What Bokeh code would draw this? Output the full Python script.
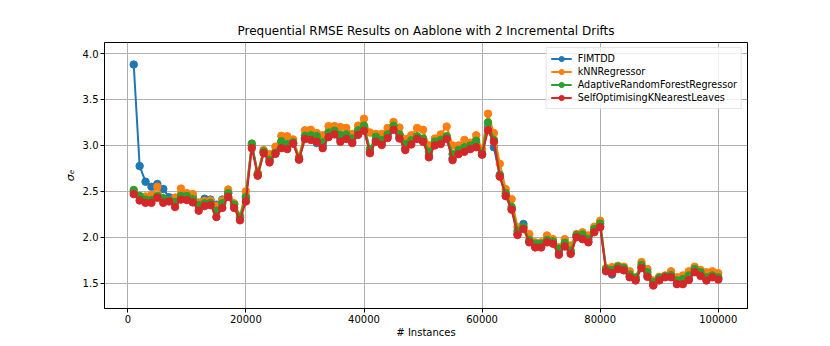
from bokeh.plotting import figure
from bokeh.models import Range1d, FixedTicker, Legend, LegendItem, NumeralTickFormatter, ColumnDataSource
from bokeh.embed import file_html
from bokeh.resources import INLINE

instances = [1000 * k for k in range(1, 101)]

fimtdd = [3.88, 2.775, 2.605, 2.55, 2.58, 2.525, 2.435, 2.43, 2.46, 2.45,
          2.44, 2.37, 2.42, 2.41, 2.355, 2.41, 2.48, 2.36, 2.22, 2.44,
          3.0, 2.68, 2.92, 2.83, 2.91, 3.0, 2.99, 3.02, 2.85, 3.08,
          3.08, 3.025, 3.0, 3.11, 3.14, 3.07, 3.09, 3.04, 3.14, 3.18,
          2.93, 3.06, 3.03, 3.10, 3.19, 3.09, 2.97, 3.03, 3.08, 3.05,
          2.89, 3.02, 3.03, 3.08, 2.86, 2.92, 2.95, 2.97, 3.0, 2.90,
          3.20, 2.98, 2.67, 2.45, 2.31, 2.04, 2.145, 1.95, 1.90, 1.90,
          1.955, 1.94, 1.83, 1.91, 1.83, 2.01, 1.99, 1.955, 2.065, 2.12,
          1.64, 1.595, 1.66, 1.65, 1.575, 1.54, 1.675, 1.585, 1.485, 1.54,
          1.57, 1.575, 1.51, 1.57, 1.545, 1.63, 1.59, 1.54, 1.57, 1.55]

knn = [2.49, 2.435, 2.445, 2.46, 2.55, 2.42, 2.405, 2.43, 2.53, 2.48,
       2.47, 2.38, 2.395, 2.40, 2.34, 2.40, 2.52, 2.37, 2.235, 2.50,
       3.0, 2.70, 2.95, 2.905, 2.985, 3.105, 3.10, 3.065, 2.875, 3.165,
       3.17, 3.135, 3.11, 3.21, 3.21, 3.20, 3.19, 3.125, 3.215, 3.29,
       3.14, 3.125, 3.125, 3.19, 3.255, 3.195, 3.07, 3.11, 3.19, 3.17,
       3.0, 3.075, 3.12, 3.205, 3.0, 3.0, 3.06, 3.03, 3.11, 2.96,
       3.345, 3.135, 2.80, 2.525, 2.415, 2.11, 2.11, 2.035, 1.945, 1.945,
       2.02, 1.98, 1.89, 1.98, 1.91, 2.035, 2.055, 2.02, 2.115, 2.18,
       1.665, 1.675, 1.69, 1.68, 1.63, 1.565, 1.73, 1.655, 1.53, 1.57,
       1.585, 1.63, 1.565, 1.585, 1.63, 1.68, 1.645, 1.62, 1.63, 1.61]

arf = [2.515, 2.45, 2.41, 2.405, 2.45, 2.425, 2.405, 2.385, 2.45, 2.45,
       2.415, 2.35, 2.37, 2.375, 2.29, 2.37, 2.48, 2.355, 2.22, 2.435,
       3.02, 2.69, 2.935, 2.845, 2.92, 3.045, 3.015, 3.035, 2.86, 3.105,
       3.11, 3.10, 3.035, 3.14, 3.16, 3.115, 3.12, 3.075, 3.165, 3.215,
       2.96, 3.095, 3.06, 3.12, 3.215, 3.12, 3.015, 3.055, 3.10, 3.075,
       2.93, 3.04, 3.06, 3.10, 2.905, 2.95, 2.98, 3.0, 3.05, 2.915,
       3.25, 3.06, 2.68, 2.48, 2.33, 2.07, 2.115, 1.97, 1.93, 1.93,
       1.97, 1.955, 1.875, 1.94, 1.855, 2.025, 2.03, 1.98, 2.09, 2.15,
       1.655, 1.645, 1.68, 1.665, 1.595, 1.56, 1.70, 1.62, 1.51, 1.56,
       1.575, 1.59, 1.53, 1.545, 1.585, 1.655, 1.62, 1.565, 1.585, 1.565]

soknl = [2.47, 2.40, 2.375, 2.375, 2.43, 2.375, 2.39, 2.33, 2.41, 2.405,
         2.38, 2.29, 2.34, 2.35, 2.22, 2.32, 2.44, 2.32, 2.185, 2.39,
         2.97, 2.67, 2.915, 2.815, 2.91, 2.97, 2.96, 3.02, 2.845, 3.07,
         3.06, 3.04, 2.97, 3.09, 3.12, 3.04, 3.07, 3.025, 3.115, 3.16,
         2.915, 3.04, 3.005, 3.08, 3.17, 3.075, 2.95, 3.01, 3.07, 3.04,
         2.87, 3.0, 3.015, 3.07, 2.84, 2.905, 2.93, 2.96, 2.98, 2.90,
         3.165, 3.04, 2.66, 2.45, 2.30, 2.025, 2.09, 1.945, 1.89, 1.89,
         1.945, 1.93, 1.81, 1.90, 1.82, 2.0, 1.98, 1.945, 2.055, 2.11,
         1.63, 1.61, 1.655, 1.64, 1.565, 1.53, 1.665, 1.57, 1.475, 1.53,
         1.565, 1.565, 1.49, 1.49, 1.535, 1.62, 1.58, 1.53, 1.565, 1.54]

series_names = ["FIMTDD", "kNNRegressor", "AdaptiveRandomForestRegressor", "SelfOptimisingKNearestLeaves"]
series_values = [fimtdd, knn, arf, soknl]
colors = ["#1f77b4", "#ff7f0e", "#2ca02c", "#d62728"]

x_ticks = [0, 20000, 40000, 60000, 80000, 100000]
y_ticks = [1.5, 2.0, 2.5, 3.0, 3.5, 4.0]

FONT = "DejaVu Sans"

p = figure(width=830, height=346, output_backend="svg", toolbar_location=None,
           x_range=Range1d(-3950, 104950), y_range=Range1d(1.225, 4.12),
           min_border_left=104, min_border_right=83, min_border_top=42, min_border_bottom=38,
           title="Prequential RMSE Results on Aablone with 2 Incremental Drifts")

p.title.align = "center"
p.title.text_font = FONT
p.title.text_font_size = "12px"
p.title.text_font_style = "normal"
p.title.text_color = "black"

p.outline_line_color = "black"
p.outline_line_width = 1
p.background_fill_color = "white"
p.border_fill_color = "white"

for ax in (p.xaxis[0], p.yaxis[0]):
    ax.major_label_text_font = FONT
    ax.major_label_text_font_size = "10px"
    ax.major_label_text_color = "black"
    ax.axis_label_text_font = FONT
    ax.axis_label_text_font_size = "10px"
    ax.axis_label_text_color = "black"
    ax.minor_tick_line_color = None
    ax.major_tick_in = 0
    ax.major_tick_out = 4
    ax.major_tick_line_color = "black"
    ax.axis_line_color = "black"
    ax.major_label_standoff = 2
    ax.axis_label_standoff = 1

p.xaxis[0].ticker = FixedTicker(ticks=x_ticks)
p.yaxis[0].ticker = FixedTicker(ticks=y_ticks)
p.xaxis[0].formatter = NumeralTickFormatter(format="0")
p.yaxis[0].formatter = NumeralTickFormatter(format="0.0")
p.xaxis[0].axis_label = "# Instances"
p.xaxis[0].axis_label_text_font_style = "normal"
p.yaxis[0].axis_label = "σₑ"
p.yaxis[0].axis_label_text_font_style = "italic"
p.yaxis[0].axis_label_text_font_size = "11px"
p.yaxis[0].axis_label_standoff = 3

p.grid.grid_line_color = "#b0b0b0"
p.grid.grid_line_width = 1

items = []
for name, vals, c in zip(series_names, series_values, colors):
    src = ColumnDataSource(dict(x=instances, y=vals))
    ln = p.line("x", "y", source=src, line_color=c, line_width=2)
    sc = p.scatter("x", "y", source=src, size=7.5, fill_color=c, line_color=c)
    items.append(LegendItem(label=name, renderers=[ln, sc]))

legend = Legend(items=items, location="top_right")
legend.label_text_font = FONT
legend.label_text_font_size = "9.6px"
legend.label_text_color = "black"
legend.label_height = 13
legend.glyph_height = 13
legend.glyph_width = 21
legend.label_standoff = 6
legend.spacing = 0
legend.padding = 4
legend.margin = 5
legend.border_line_color = "#cccccc"
legend.border_line_width = 1
legend.background_fill_alpha = 0.8
p.add_layout(legend)

open("out.html", "w").write(file_html(p, INLINE))
